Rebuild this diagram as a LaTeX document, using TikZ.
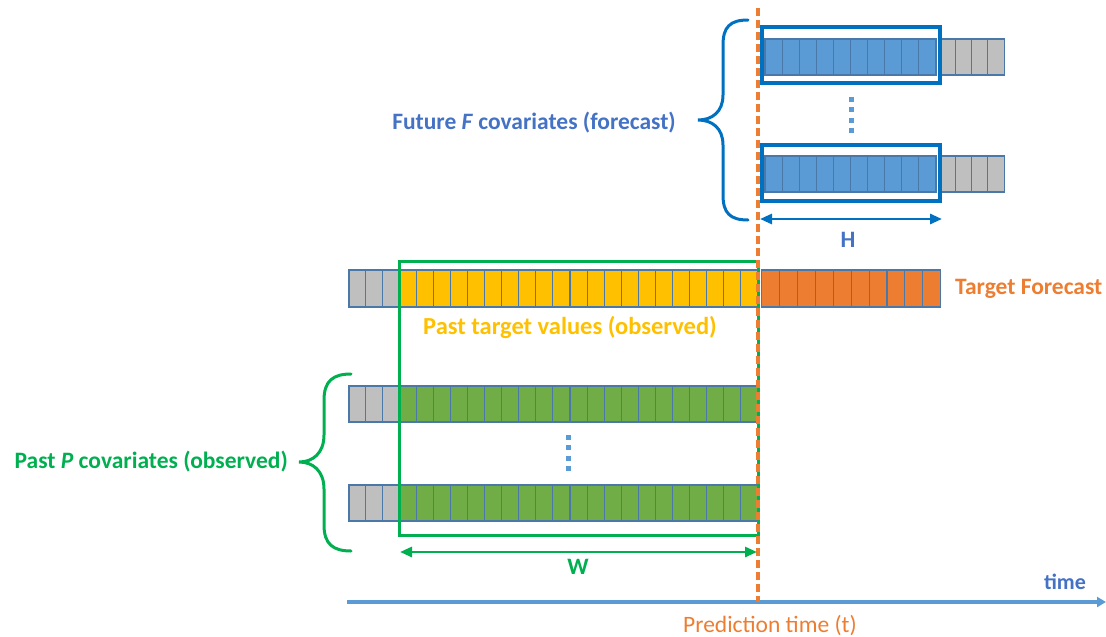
\documentclass[tikz,border=0pt]{standalone}
\usepackage{fontspec}
\setmainfont{Carlito}
\usetikzlibrary{arrows.meta}

\definecolor{cellblue}{HTML}{5B9BD5}
\definecolor{cellgray}{HTML}{BFBFBF}
\definecolor{cellyellow}{HTML}{FFC000}
\definecolor{cellorange}{HTML}{ED7D31}
\definecolor{cellgreen}{HTML}{70AD47}
\definecolor{cellline}{HTML}{4A78A8}
\definecolor{boxgreen}{HTML}{00B050}
\definecolor{boxblue}{HTML}{0070C0}
\definecolor{textblue}{HTML}{4472C4}
\definecolor{axisblue}{HTML}{5B9BD5}

% a row of n cells: start x, top y, count, cell width, cell height, fill colour
\newcommand\cellrow[6]{%
  \foreach \i in {1,...,#3}
    \path[cellsty, fill=#6] ({#1+(\i-1)*#4},#2) rectangle ++(#4,#5);%
}

\tikzset{
  cellsty/.style={draw=cellline, line width=1.1pt},
  lbl/.style={font=\fontsize{23.5}{28}\selectfont\bfseries, inner sep=0pt},
  plainlbl/.style={font=\fontsize{23.5}{28}\selectfont, inner sep=0pt},
  windowbox/.style={draw=boxgreen, line width=3pt},
  horizonbox/.style={draw=boxblue, line width=3.5pt},
  bracesty/.style={line width=3pt, line cap=round},
  vdots/.style={draw=cellblue, line width=5pt, dash pattern=on 5pt off 5.33pt},
  dimarrow/.style={line width=2.8pt, {Triangle[length=12pt,width=10pt]}-{Triangle[length=12pt,width=10pt]}},
  nowline/.style={draw=cellorange, line width=3.5pt, dash pattern=on 8pt off 4pt},
}

\begin{document}
\begin{tikzpicture}[x=1pt, y=-1pt]
\useasboundingbox (0,0) rectangle (1106,637);

% future covariates (two rows)
\cellrow{765}{39}{10}{17.1}{36}{cellblue}
\cellrow{939.3}{39}{4}{16.2}{36}{cellgray}
\cellrow{765}{156}{10}{17.1}{36}{cellblue}
\cellrow{939.3}{156}{4}{16.2}{36}{cellgray}
\path[horizonbox] (762,27) rectangle (940,83);
\path[horizonbox] (762,145) rectangle (940,201);
\coordinate (fdTop) at (851,97);
\coordinate (fdBot) at (851,133);
\draw[vdots] (fdTop) -- (fdBot);

% target series
\cellrow{349}{270}{3}{16.7}{37}{cellgray}
\cellrow{399}{270}{21}{17.095}{37}{cellyellow}
\cellrow{761.7}{270}{10}{17.9}{37}{cellorange}

% past covariates (two rows)
\cellrow{349}{386}{3}{16.7}{36}{cellgray}
\cellrow{399}{386}{21}{17.095}{36}{cellgreen}
\cellrow{349}{485}{3}{16.7}{36}{cellgray}
\cellrow{399}{485}{21}{17.095}{36}{cellgreen}
\coordinate (pdTop) at (568,435);
\coordinate (pdBot) at (568,471);
\draw[vdots] (pdTop) -- (pdBot);

% look-back window
\path[windowbox] (399,261) rectangle (758,535);

% braces
\draw[bracesty, boxblue] (748,20) .. controls (730,20) and (723,27) .. (723,45)
  -- (723,95) .. controls (723,112) and (712,120) .. (698,120)
  .. controls (712,120) and (723,128) .. (723,145)
  -- (723,195) .. controls (723,213) and (730,220) .. (748,220);
\draw[bracesty, boxgreen] (351,374) .. controls (333,374) and (324,381) .. (324,400)
  -- (324,435) .. controls (324,453) and (313,462) .. (299,462)
  .. controls (313,462) and (324,471) .. (324,489)
  -- (324,525) .. controls (324,544) and (333,551) .. (351,551);

% time axis and prediction time
\coordinate (axL) at (347,602);
\coordinate (axR) at (1106,602);
\draw[axisblue, line width=3.3pt, -{Triangle[length=9pt,width=10pt]}] (axL) -- (axR);
\coordinate (nowTop) at (758,8);
\coordinate (nowBot) at (758,602);
\draw[nowline] (nowTop) -- (nowBot);

% horizon and window widths
\coordinate (hL) at (760,219);
\coordinate (hR) at (942,219);
\draw[dimarrow, boxblue] (hL) -- (hR);
\coordinate (wL) at (400,552);
\coordinate (wR) at (757,552);
\draw[dimarrow, boxgreen] (wL) -- (wR);

% labels
\node[lbl, text=textblue, anchor=east] (futLbl) at (676,123) {Future \textit{F} covariates (forecast)};
\node[lbl, text=boxgreen, anchor=east] (pastLbl) at (288,462) {Past \textit{P} covariates (observed)};
\node[lbl, text=cellyellow, font=\fontsize{24.5}{29}\selectfont\bfseries] (tgtLbl) at (570,327) {Past target values (observed)};
\node[lbl, text=cellorange, anchor=west] (fcLbl) at (955,289) {Target Forecast};
\node[lbl, text=textblue] (hLbl) at (848,240) {H};
\node[lbl, text=boxgreen] (wLbl) at (578,567) {W};
\node[lbl, text=textblue, font=\fontsize{22}{26}\selectfont\bfseries] (timeLbl) at (1065,582) {time};
\node[plainlbl, text=cellorange] (ptLbl) at (770,626) {Prediction time (t)};
\end{tikzpicture}
\end{document}
